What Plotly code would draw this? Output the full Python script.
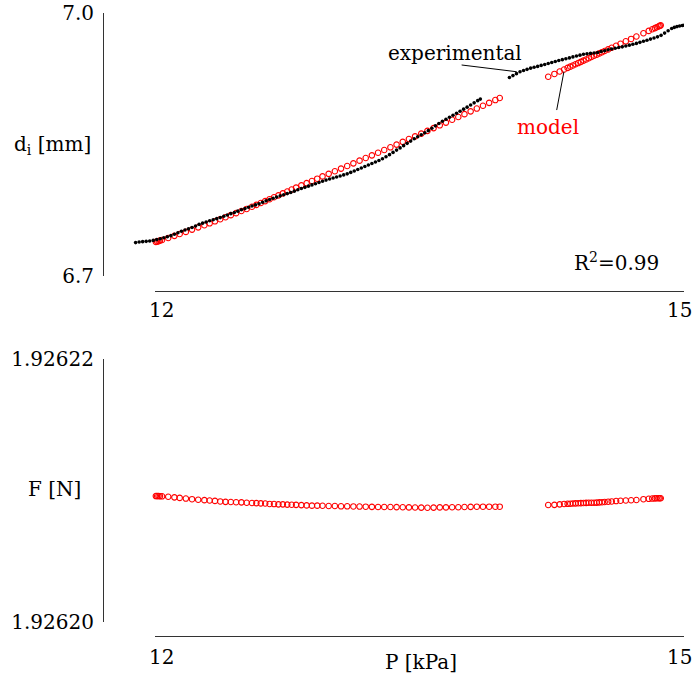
import plotly.graph_objects as go

# ---------------- data ----------------
# experimental inner diameter d_i [mm] vs P [kPa]
exp_P = [11.89, 11.91, 11.93, 11.95, 11.97, 11.99, 12.01, 12.03, 12.05, 12.07, 12.09, 12.11, 12.13, 12.15,
         12.17, 12.19, 12.21, 12.23, 12.25, 12.27, 12.29, 12.31, 12.33, 12.35, 12.37, 12.39, 12.41, 12.43,
         12.45, 12.47, 12.49, 12.51, 12.53, 12.55, 12.57, 12.59, 12.61, 12.63, 12.65, 12.67, 12.69, 12.71,
         12.73, 12.75, 12.77, 12.79, 12.81, 12.83, 12.85, 12.87, 12.89, 12.91, 12.93, 12.95, 12.97, 12.99,
         13.01, 13.03, 13.05, 13.07, 13.09, 13.11, 13.13, 13.15, 13.17, 13.19, 13.21, 13.23, 13.25, 13.27,
         13.29, 13.31, 13.33, 13.35, 13.37, 13.39, 13.41, 13.43, 13.45, 13.47, 13.49, 13.51, 13.53, 13.55,
         13.57, 13.59, 13.61, 13.63, 13.65, 13.67, 13.69, 13.71, 13.73, 13.75, 13.77, 13.79, 13.81, 13.83,
         13.845,
         None,
         14.01, 14.03, 14.05, 14.07, 14.09, 14.11, 14.13, 14.15, 14.17, 14.19, 14.21, 14.23, 14.25, 14.27,
         14.29, 14.31, 14.33, 14.35, 14.37, 14.39, 14.41, 14.43, 14.45, 14.47, 14.49, 14.51, 14.53, 14.55,
         14.57, 14.59, 14.61, 14.63, 14.65, 14.67, 14.69, 14.71, 14.73, 14.75, 14.77, 14.79, 14.81, 14.83,
         14.85, 14.87, 14.89, 14.91, 14.93, 14.945, 14.96, 14.975, 14.99, 15.0]
exp_d = [6.7381, 6.7387, 6.7392, 6.7395, 6.7399, 6.7406, 6.7415, 6.7425, 6.7436, 6.7447, 6.7460, 6.7477,
         6.7494, 6.7510, 6.7524, 6.7538, 6.7553, 6.7570, 6.7589, 6.7603, 6.7616, 6.7630, 6.7642, 6.7654,
         6.7666, 6.7681, 6.7696, 6.7711, 6.7725, 6.7740, 6.7755, 6.7769, 6.7784, 6.7798, 6.7811, 6.7825,
         6.7841, 6.7857, 6.7873, 6.7887, 6.7900, 6.7914, 6.7927, 6.7940, 6.7953, 6.7968, 6.7984, 6.7998,
         6.8011, 6.8025, 6.8039, 6.8053, 6.8067, 6.8080, 6.8094, 6.8107, 6.8118, 6.8130, 6.8141, 6.8153,
         6.8165, 6.8182, 6.8198, 6.8215, 6.8232, 6.8249, 6.8266, 6.8283, 6.8301, 6.8318, 6.8337, 6.8360,
         6.8384, 6.8410, 6.8436, 6.8461, 6.8487, 6.8513, 6.8539, 6.8565, 6.8588, 6.8611, 6.8633, 6.8658,
         6.8686, 6.8713, 6.8740, 6.8765, 6.8788, 6.8811, 6.8834, 6.8857, 6.8880, 6.8903, 6.8926, 6.8950,
         6.8975, 6.9000, 6.9018,
         None,
         6.9264, 6.9286, 6.9308, 6.9330, 6.9344, 6.9357, 6.9371, 6.9381, 6.9391, 6.9402, 6.9413, 6.9424,
         6.9436, 6.9447, 6.9458, 6.9468, 6.9478, 6.9488, 6.9499, 6.9509, 6.9519, 6.9529, 6.9534, 6.9539,
         6.9543, 6.9550, 6.9560, 6.9570, 6.9581, 6.9590, 6.9598, 6.9606, 6.9614, 6.9623, 6.9633, 6.9643,
         6.9653, 6.9665, 6.9677, 6.9690, 6.9702, 6.9715, 6.9728, 6.9745, 6.9771, 6.9797, 6.9824, 6.9836,
         6.9845, 6.9851, 6.9857, 6.9860]

# model: pressure, inner diameter d_i [mm], force F [N]
model_P = [12.005, 12.012, 12.02, 12.028, 12.04, 12.075, 12.11, 12.14, 12.175, 12.21, 12.245, 12.28,
           12.31, 12.34, 12.37, 12.40, 12.43, 12.46, 12.49, 12.52, 12.55, 12.575, 12.60, 12.625, 12.65,
           12.675, 12.70, 12.725, 12.75, 12.775, 12.80, 12.83, 12.86, 12.89, 12.92, 12.95, 12.985, 13.02,
           13.055, 13.09, 13.125, 13.16, 13.195, 13.23, 13.265, 13.30, 13.335, 13.37, 13.405, 13.44, 13.475,
           13.51, 13.545, 13.58, 13.615, 13.65, 13.685, 13.72, 13.755, 13.79, 13.825, 13.86, 13.895, 13.93,
           13.955,
           14.23, 14.265, 14.295, 14.32, 14.34, 14.355, 14.37, 14.385, 14.40, 14.415, 14.43, 14.445, 14.46,
           14.475, 14.49, 14.505, 14.52, 14.535, 14.55, 14.57, 14.59, 14.615, 14.64, 14.67, 14.70, 14.73,
           14.77, 14.80, 14.82, 14.835, 14.845, 14.855, 14.862, 14.868]
model_d = [6.7389, 6.7393, 6.7398, 6.7403, 6.7411, 6.7434, 6.7458, 6.7479, 6.7503, 6.7529, 6.7555, 6.7579,
           6.7601, 6.7624, 6.7648, 6.7671, 6.7694, 6.7717, 6.7741, 6.7765, 6.7790, 6.7811, 6.7833, 6.7854,
           6.7876, 6.7898, 6.7920, 6.7942, 6.7964, 6.7986, 6.8008, 6.8034, 6.8059, 6.8084, 6.8110, 6.8136,
           6.8165, 6.8195, 6.8225, 6.8255, 6.8285, 6.8316, 6.8346, 6.8376, 6.8406, 6.8437, 6.8468, 6.8499,
           6.8530, 6.8562, 6.8593, 6.8624, 6.8655, 6.8687, 6.8719, 6.8750, 6.8782, 6.8814, 6.8846, 6.8878,
           6.8910, 6.8942, 6.8975, 6.9007, 6.9030,
           6.9273, 6.9305, 6.9333, 6.9356, 6.9374, 6.9388, 6.9401, 6.9415, 6.9429, 6.9443, 6.9457, 6.9470,
           6.9484, 6.9498, 6.9512, 6.9525, 6.9539, 6.9553, 6.9567, 6.9585, 6.9604, 6.9626, 6.9649, 6.9677,
           6.9704, 6.9732, 6.9769, 6.9796, 6.9815, 6.9828, 6.9837, 6.9846, 6.9853, 6.9859]
model_F = [1.92620954, 1.92620954, 1.92620954, 1.92620953, 1.92620952, 1.92620949, 1.92620944, 1.92620940,
           1.92620935, 1.92620930, 1.92620926, 1.92620923, 1.92620920, 1.92620917, 1.92620913, 1.92620910,
           1.92620909, 1.92620907, 1.92620906, 1.92620903, 1.92620901, 1.92620900, 1.92620898, 1.92620897,
           1.92620894, 1.92620893, 1.92620891, 1.92620891, 1.92620889, 1.92620888, 1.92620887, 1.92620885,
           1.92620883, 1.92620881, 1.92620881, 1.92620880, 1.92620878, 1.92620878, 1.92620876, 1.92620876,
           1.92620875, 1.92620874, 1.92620873, 1.92620872, 1.92620871, 1.92620871, 1.92620871, 1.92620870,
           1.92620869, 1.92620868, 1.92620867, 1.92620866, 1.92620865, 1.92620866, 1.92620868, 1.92620868,
           1.92620869, 1.92620869, 1.92620871, 1.92620872, 1.92620873, 1.92620873, 1.92620873, 1.92620873,
           1.92620873,
           1.92620886, 1.92620887, 1.92620891, 1.92620894, 1.92620895, 1.92620896, 1.92620897, 1.92620898,
           1.92620899, 1.92620900, 1.92620901, 1.92620902, 1.92620903, 1.92620903, 1.92620903, 1.92620904,
           1.92620906, 1.92620907, 1.92620909, 1.92620911, 1.92620913, 1.92620916, 1.92620918, 1.92620920,
           1.92620922, 1.92620924, 1.92620930, 1.92620933, 1.92620935, 1.92620936, 1.92620937, 1.92620937,
           1.92620937, 1.92620937]

P_ticks = [12, 15]
d_ticks = [6.7, 7.0]
d_ticktext = ["6.7", "7.0"]
F_ticks = [1.92620, 1.92622]
F_ticktext = ["1.92620", "1.92622"]
r_squared = "0.99"

# ---------------- figure ----------------
FONT = "DejaVu Serif"
FS = 20
AXC = "#333333"

W, H = 694, 679
ML, MR, MT, MB = 103, 10, 13, 43
PW = W - ML - MR
PH = H - MT - MB


def px2paper_x(px):
    return (px - ML) / PW


def px2paper_y(py):
    return (H - MB - py) / PH


X0_PX, X1_PX = 155, 684          # pixel span of the 12..15 kPa axis
xdom = [px2paper_x(X0_PX), 1.0]
px_per_kpa = (X1_PX - X0_PX) / (P_ticks[1] - P_ticks[0])
# hidden helper axis with the same scale, extended left so the experimental
# points below 12 kPa (drawn outside the axis line in the original) stay visible
x3_lo = P_ticks[0] - (X0_PX - ML) / px_per_kpa

fig = go.Figure()

fig.add_trace(go.Scatter(x=exp_P, y=exp_d, mode="markers", xaxis="x3", yaxis="y",
                         marker=dict(color="black", size=3.6, line=dict(width=0)),
                         name="experimental"))
fig.add_trace(go.Scatter(x=model_P, y=model_d, mode="markers", xaxis="x", yaxis="y", cliponaxis=False,
                         marker=dict(symbol="circle-open", color="#ff0000", size=5.5,
                                     line=dict(width=1.1, color="#ff0000")),
                         name="model"))
fig.add_trace(go.Scatter(x=model_P, y=model_F, mode="markers", xaxis="x2", yaxis="y2", cliponaxis=False,
                         marker=dict(symbol="circle-open", color="#ff0000", size=5.5,
                                     line=dict(width=1.1, color="#ff0000")),
                         name="model F"))

axis_common = dict(showline=True, linecolor=AXC, linewidth=1, showgrid=False, zeroline=False,
                   ticks="inside", ticklen=5, tickcolor=AXC, tickwidth=1, automargin=False,
                   tickfont=dict(family=FONT, size=FS, color="black"))

fig.update_layout(
    template="none",
    width=W, height=H,
    margin=dict(l=ML, r=MR, t=MT, b=MB, pad=0, autoexpand=False),
    paper_bgcolor="white", plot_bgcolor="rgba(0,0,0,0)",
    showlegend=False,
    font=dict(family=FONT, size=FS, color="black"),
    xaxis=dict(domain=xdom, range=P_ticks, anchor="free", position=px2paper_y(291),
               tickvals=P_ticks, showticklabels=False, **axis_common),
    xaxis3=dict(domain=[0, 1.0], range=[x3_lo, P_ticks[1]], anchor="free", position=px2paper_y(291),
                visible=False, showgrid=False, zeroline=False, automargin=False),
    yaxis=dict(domain=[px2paper_y(276), px2paper_y(13)], range=[6.7, 7.0], anchor="free", position=0,
               tickvals=d_ticks, ticktext=d_ticktext, ticklabelstandoff=5, **axis_common),
    xaxis2=dict(domain=xdom, range=P_ticks, anchor="free", position=0,
                tickvals=P_ticks, showticklabels=False, **axis_common),
    yaxis2=dict(domain=[px2paper_y(621.5), px2paper_y(358.5)], range=[1.92620, 1.92622], anchor="free",
                position=0, tickvals=F_ticks, ticktext=F_ticktext, ticklabelstandoff=5, **axis_common),
)

TF = dict(family=FONT, size=FS, color="black")
ann = []
# x tick labels
for yp in (310, 657):
    ann.append(dict(text=str(P_ticks[0]), x=px2paper_x(161), y=px2paper_y(yp), xref="paper", yref="paper",
                    showarrow=False, xanchor="center", yanchor="middle", font=TF))
    ann.append(dict(text=str(P_ticks[1]), x=px2paper_x(679), y=px2paper_y(yp), xref="paper", yref="paper",
                    showarrow=False, xanchor="center", yanchor="middle", font=TF))
# axis titles
ann.append(dict(text="d<sub>i</sub> [mm]", x=px2paper_x(52), y=px2paper_y(145), xref="paper", yref="paper",
                showarrow=False, xanchor="center", yanchor="middle", font=TF))
ann.append(dict(text="F [N]", x=px2paper_x(54), y=px2paper_y(489), xref="paper", yref="paper",
                showarrow=False, xanchor="center", yanchor="middle", font=TF))
ann.append(dict(text="P [kPa]", x=px2paper_x(421), y=px2paper_y(662), xref="paper", yref="paper",
                showarrow=False, xanchor="center", yanchor="middle", font=TF))
# labels inside the top panel
ann.append(dict(text="experimental", x=13.70, y=6.9544, xref="x", yref="y", showarrow=False,
                xanchor="center", yanchor="middle", font=TF))
ann.append(dict(text="model", x=14.229, y=6.870, xref="x", yref="y", showarrow=False,
                xanchor="center", yanchor="middle", font=dict(family=FONT, size=FS, color="#ff0000")))
ann.append(dict(text="R<sup>2</sup>=" + r_squared, x=14.62, y=6.716, xref="x", yref="y", showarrow=False,
                xanchor="center", yanchor="middle", font=TF))
fig.update_layout(annotations=ann)

# leader lines
fig.add_shape(type="line", xref="x", yref="y", x0=13.739, y0=6.9407, x1=14.051, y1=6.9330,
              line=dict(color="black", width=1))
fig.add_shape(type="line", xref="x", yref="y", x0=14.278, y0=6.8893, x1=14.319, y1=6.9330,
              line=dict(color="black", width=1))

fig.write_html("out.html")
